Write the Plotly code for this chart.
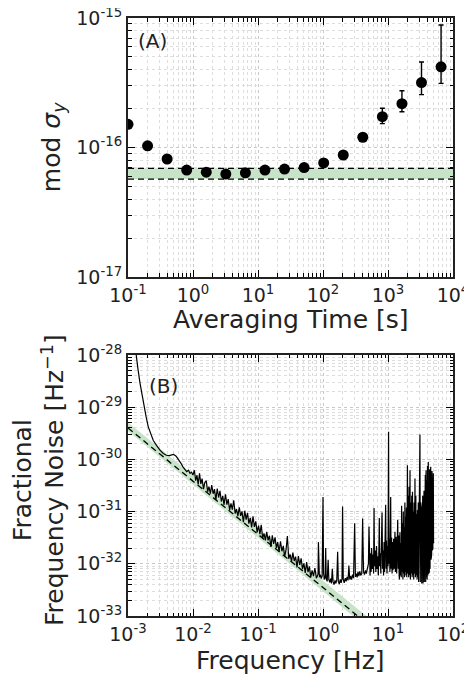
import plotly.graph_objects as go

# ---------------- Panel A data ----------------
tau = [0.1, 0.2, 0.4, 0.8, 1.6, 3.2, 6.4, 12.8, 25.6, 51.2, 102.4, 204.8, 409.6, 819.2, 1638.4, 3276.8, 6553.6]
mod_sigma = [1.51e-16, 1.03e-16, 8.15e-17, 6.7e-17, 6.45e-17, 6.24e-17, 6.38e-17, 6.7e-17, 6.82e-17,
             7.0e-17, 7.6e-17, 8.75e-17, 1.2e-16, 1.73e-16, 2.18e-16, 3.17e-16, 4.2e-16]
err_plus = [1e-18, 1e-18, 1e-18, 1e-18, 1e-18, 1e-18, 1e-18, 1e-18, 1e-18,
            1.5e-18, 2e-18, 3e-18, 8e-18, 2.8e-17, 5.6e-17, 1.4e-16, 4.64e-16]
err_minus = [1e-18, 1e-18, 1e-18, 1e-18, 1e-18, 1e-18, 1e-18, 1e-18, 1e-18,
             1.5e-18, 2e-18, 3e-18, 8e-18, 2.0e-17, 2.9e-17, 6.1e-17, 1.07e-16]
bandA_x = [0.1, 1e4]
bandA_lo = [5.7e-17, 5.7e-17]
bandA_hi = [6.9e-17, 6.9e-17]
xA_ticks = [0.1, 1, 10, 100, 1000, 10000]
xA_labels = ["10<sup>-1</sup>", "10<sup>0</sup>", "10<sup>1</sup>", "10<sup>2</sup>", "10<sup>3</sup>", "10<sup>4</sup>"]
yA_ticks = [1e-17, 1e-16, 1e-15]
yA_labels = ["10<sup>-17</sup>", "10<sup>-16</sup>", "10<sup>-15</sup>"]

# ---------------- Panel B data ----------------
bandB_f = [1e-3, 5.0]
bandB_lo = [3.5e-30, 5.7e-34]
bandB_hi = [5.1e-30, 9.3e-34]
bandB_mid = [4.0e-30, 6.8e-34]
xB_ticks = [1e-3, 1e-2, 1e-1, 1, 10, 100]
xB_labels = ["10<sup>-3</sup>", "10<sup>-2</sup>", "10<sup>-1</sup>", "10<sup>0</sup>", "10<sup>1</sup>", "10<sup>2</sup>"]
yB_ticks = [1e-33, 1e-32, 1e-31, 1e-30, 1e-29, 1e-28]
yB_labels = ["10<sup>-33</sup>", "10<sup>-32</sup>", "10<sup>-31</sup>", "10<sup>-30</sup>", "10<sup>-29</sup>", "10<sup>-28</sup>"]

noise_f = [
    # low-frequency drift
    1.25e-3, 1.33e-3, 1.42e-3, 1.53e-3, 1.65e-3, 1.76e-3, 1.9e-3, 2.05e-3, 2.25e-3, 2.45e-3,
    2.75e-3, 3.1e-3, 3.5e-3, 3.9e-3, 4.3e-3, 4.7e-3, 5.0e-3, 5.5e-3, 6.0e-3, 6.5e-3,
    7.0e-3, 7.5e-3, 8.0e-3, 8.5e-3, 9.0e-3, 9.5e-3, 1.0e-2,
    # flicker region
    0.0105, 0.011, 0.0115, 0.012, 0.0126, 0.0132, 0.0138, 0.0145, 0.0152, 0.016,
    0.0168, 0.0176, 0.0185, 0.0194, 0.0204, 0.0214, 0.0225, 0.0236, 0.0248, 0.026,
    0.0273, 0.0287, 0.03, 0.0316, 0.0332, 0.0348, 0.0366, 0.0384, 0.0403, 0.0423,
    0.0445, 0.0467, 0.049, 0.0515, 0.054, 0.0567, 0.0596, 0.0626, 0.0657, 0.069,
    0.0724, 0.076, 0.0798, 0.0838, 0.088, 0.0924, 0.097, 0.102, 0.107, 0.112,
    0.118, 0.124, 0.13, 0.136, 0.143, 0.15, 0.158, 0.166, 0.174, 0.183,
    0.192, 0.201, 0.211, 0.222, 0.233, 0.245, 0.257, 0.27, 0.283, 0.297,
    0.312, 0.328, 0.344, 0.361, 0.379, 0.398, 0.418, 0.439, 0.461, 0.484,
    0.508, 0.533, 0.56, 0.588, 0.617, 0.648, 0.68, 0.714, 0.75, 0.79,
    # floor with spurs
    0.82, 0.84, 0.85, 0.86, 0.88, 0.91, 0.94, 0.97, 1.0, 1.02,
    1.05, 1.08, 1.1, 1.12, 1.16, 1.2, 1.23, 1.27, 1.31, 1.35,
    1.39, 1.43, 1.48, 1.53, 1.58, 1.63, 1.68, 1.72, 1.78, 1.84,
    1.9, 1.96, 2.0, 2.05, 2.12, 2.2, 2.27, 2.35, 2.43, 2.5,
    2.58, 2.66, 2.75, 2.85, 2.95, 3.07, 3.15, 3.25, 3.35, 3.45,
    3.56, 3.68, 3.8, 3.95, 4.07, 4.2, 4.35, 4.5, 4.65, 4.8,
    # 5-15 Hz
    5.0, 5.1, 5.2, 5.3, 5.4, 5.5, 5.6, 5.75, 5.9, 6.0,
    6.1, 6.2, 6.35, 6.5, 6.65, 6.8, 6.95, 7.1, 7.25, 7.35,
    7.45, 7.6, 7.75, 7.9, 8.1, 8.25, 8.4, 8.55, 8.7, 8.85,
    9.0, 9.2, 9.35, 9.5, 9.65, 9.8, 10.0, 10.2, 10.35, 10.5,
    10.7, 10.85, 11.0, 11.15, 11.35, 11.55, 11.75, 11.95, 12.2, 12.45,
    12.8, 13.0, 13.3, 13.6, 13.85, 14.1, 14.35, 14.6, 14.85,
    # 15-50 Hz
    15.0, 15.25, 15.5, 15.75, 16.0, 16.2, 16.45, 16.7, 16.95, 17.2,
    17.45, 17.7, 17.95, 18.2, 18.45, 18.7, 18.95, 19.2, 19.45, 19.9,
    20.2, 20.5, 20.8, 21.1, 21.45, 21.8, 22.1, 22.45, 22.8, 23.15,
    23.5, 23.8, 24.15, 24.5, 24.85, 25.2, 25.6, 26.0, 26.4, 26.8,
    27.2, 27.6, 28.0, 28.4, 28.8, 29.2, 29.6, 30.0, 30.4, 31.0,
    31.4, 31.8, 32.2, 32.6, 33.0, 33.4, 33.8, 34.2, 34.6, 35.0,
    35.4, 35.8, 36.2, 36.6, 37.0, 37.5, 38.0, 38.5, 39.0, 39.5,
    40.0, 40.5, 41.0, 41.7, 42.2, 42.7, 43.2, 43.7, 44.3, 44.8,
    45.4, 45.9, 46.4, 46.9, 47.5, 48.0, 48.5, 49.0, 49.4, 49.8,
    50.2, 50.7,
]
noise_psd = [
    2.0e-28, 1.0e-28, 5.5e-29, 2.9e-29, 1.6e-29, 1.0e-29, 6.5e-30, 4.2e-30, 3.0e-30, 2.3e-30,
    1.85e-30, 1.5e-30, 1.3e-30, 1.2e-30, 1.18e-30, 1.2e-30, 1.25e-30, 1.15e-30, 1.0e-30, 8.5e-31,
    7.2e-31, 6.4e-31, 5.8e-31, 6.2e-31, 5.4e-31, 5.7e-31, 5.0e-31,
    6.2e-31, 3.9e-31, 5.0e-31, 3.3e-31, 5.4e-31, 3.4e-31, 4.3e-31, 2.7e-31, 3.6e-31, 3.9e-31,
    2.4e-31, 3.0e-31, 2.2e-31, 3.2e-31, 2.2e-31, 2.7e-31, 1.67e-31, 2.75e-31, 1.86e-31, 2.5e-31,
    1.56e-31, 2.0e-31, 1.34e-31, 2.13e-31, 1.36e-31, 1.73e-31, 1.07e-31, 1.43e-31, 1.09e-31, 1.65e-31,
    9.2e-32, 1.12e-31, 8.2e-32, 1.21e-31, 8.3e-32, 1.01e-31, 6.3e-32, 1.04e-31, 7.0e-32, 9.4e-32,
    5.9e-32, 7.6e-32, 5.0e-32, 8.1e-32, 5.1e-32, 6.5e-32, 4.0e-32, 5.4e-32, 3.7e-32, 5.6e-32,
    3.1e-32, 3.8e-32, 2.8e-32, 4.1e-32, 2.8e-32, 3.45e-32, 2.1e-32, 3.5e-32, 2.4e-32, 3.2e-32,
    2.0e-32, 2.6e-32, 1.7e-32, 2.7e-32, 1.74e-32, 2.2e-32, 1.37e-32, 1.84e-32, 3.4e-32, 1.25e-32,
    1.51e-32, 1.1e-32, 1.64e-32, 1.13e-32, 1.37e-32, 8.5e-33, 1.4e-32, 9.5e-33, 1.27e-32, 7.9e-33,
    1.02e-32, 6.7e-33, 1.08e-32, 6.9e-33, 8.9e-33, 5.5e-33, 7.5e-33, 5.8e-33, 8.3e-33, 5.3e-33,
    5.8e-33, 6.5e-33, 2.6e-32, 6.0e-33, 5.5e-33, 6.2e-33, 5.2e-33, 5.8e-33, 1.9e-31, 6.5e-33,
    5.0e-33, 5.6e-33, 2.0e-32, 5.2e-33, 4.6e-33, 1.2e-32, 5.0e-33, 4.4e-33, 5.2e-33, 4.2e-33,
    8.0e-33, 4.5e-33, 4.0e-33, 4.8e-33, 4.2e-33, 5.0e-33, 1.7e-32, 4.6e-33, 4.1e-33, 5.0e-33,
    4.3e-33, 5.2e-33, 1.25e-31, 5.0e-33, 4.3e-33, 5.3e-33, 4.6e-33, 5.6e-33, 4.8e-33, 9.3e-33,
    5.0e-33, 5.8e-33, 5.0e-33, 6.2e-33, 5.3e-33, 6.0e-32, 5.6e-33, 6.5e-33, 5.5e-33, 7.0e-33,
    5.8e-33, 7.2e-33, 6.0e-33, 6.5e-33, 7.4e-32, 7.0e-33, 6.2e-33, 7.5e-33, 6.5e-33, 8.0e-33,
    1.0e-32, 5.2e-32, 1.2e-32, 6.0e-33, 1.6e-32, 7.0e-33, 2.0e-32, 8.0e-33, 1.5e-32, 6.5e-33,
    1.17e-31, 9.0e-33, 1.8e-32, 7.0e-33, 2.2e-32, 8.0e-33, 1.4e-32, 6.0e-33, 2.0e-32, 7.5e-32,
    9.0e-33, 1.6e-32, 6.5e-33, 2.4e-32, 9.6e-32, 8.0e-33, 1.8e-32, 6.0e-33, 2.6e-32, 7.0e-33,
    2.0e-32, 1.35e-31, 8.0e-33, 2.8e-32, 6.5e-33, 2.2e-32, 9.0e-33, 3.4e-30, 1.0e-32, 3.0e-32,
    7.0e-33, 2.5e-32, 1.9e-31, 8.0e-33, 3.2e-32, 6.5e-33, 2.6e-32, 7.5e-33, 3.0e-32, 8.0e-33,
    4.1e-32, 7.0e-33, 3.3e-32, 6.5e-33, 2.8e-32, 7.0e-32, 8.0e-33, 3.5e-32, 6.0e-33,
    5.0e-33, 4.0e-32, 6.0e-33, 2.5e-32, 5.5e-33, 1.3e-31, 7.0e-33, 6.0e-32, 5.0e-33, 1.0e-31,
    6.5e-33, 5.0e-32, 5.5e-33, 1.5e-31, 7.0e-33, 8.0e-32, 6.0e-33, 1.2e-31, 5.5e-33, 7.7e-31,
    6.5e-33, 2.0e-31, 5.5e-33, 3.0e-31, 6.0e-33, 6.2e-31, 5.0e-33, 1.5e-31, 6.5e-33, 2.0e-31,
    5.5e-33, 2.4e-31, 6.0e-33, 1.0e-31, 5.0e-33, 1.5e-31, 6.5e-33, 4.3e-31, 5.5e-33, 2.0e-31,
    6.0e-33, 9.0e-32, 5.0e-33, 1.07e-31, 5.5e-33, 1.5e-31, 4.5e-33, 2.0e-31, 5.0e-33, 3.0e-30,
    4.5e-33, 1.5e-31, 5.0e-33, 1.2e-31, 4.2e-33, 1.8e-31, 4.5e-33, 2.0e-31, 4.2e-33, 1.4e-31,
    5.0e-33, 2.5e-31, 4.5e-33, 3.5e-31, 5.0e-33, 5.0e-31, 4.5e-33, 6.2e-31, 5.5e-33, 4.0e-31,
    5.0e-33, 7.5e-31, 6.0e-33, 8.9e-31, 6.5e-33, 5.0e-31, 7.0e-33, 6.5e-31, 8.0e-33, 4.5e-31,
    7.2e-31, 1.2e-32, 5.0e-31, 1.5e-32, 6.0e-31, 1.8e-32, 4.0e-31, 2.0e-32, 3.0e-31, 5.4e-31,
    2.5e-32, 2.6e-32,
]

FONT = "DejaVu Sans"
TXT = "#222222"
GREEN = "#c8e4c8"
GRID = "#c8c8c8"

fig = go.Figure()

# Panel A band
fig.add_trace(go.Scatter(x=bandA_x, y=bandA_lo, mode="lines", line=dict(width=0), showlegend=False,
                         xaxis="x", yaxis="y", hoverinfo="skip"))
fig.add_trace(go.Scatter(x=bandA_x, y=bandA_hi, mode="lines", line=dict(width=0), fill="tonexty",
                         fillcolor=GREEN, showlegend=False, xaxis="x", yaxis="y", hoverinfo="skip"))
for yy in (bandA_lo, bandA_hi):
    fig.add_trace(go.Scatter(x=bandA_x, y=yy, mode="lines", line=dict(color="black", width=1.4, dash="6px,4px"),
                             showlegend=False, xaxis="x", yaxis="y"))
fig.add_trace(go.Scatter(x=tau, y=mod_sigma, mode="markers",
                         marker=dict(color="black", size=11),
                         error_y=dict(type="data", array=err_plus, arrayminus=err_minus, color="black",
                                      thickness=1.4, width=2.5),
                         showlegend=False, xaxis="x", yaxis="y"))

# Panel B band
fig.add_trace(go.Scatter(x=bandB_f, y=bandB_lo, mode="lines", line=dict(width=0), showlegend=False,
                         xaxis="x2", yaxis="y2", hoverinfo="skip"))
fig.add_trace(go.Scatter(x=bandB_f, y=bandB_hi, mode="lines", line=dict(width=0), fill="tonexty",
                         fillcolor=GREEN, showlegend=False, xaxis="x2", yaxis="y2", hoverinfo="skip"))
fig.add_trace(go.Scatter(x=bandB_f, y=bandB_mid, mode="lines", line=dict(color="black", width=1.3, dash="6px,4px"),
                         showlegend=False, xaxis="x2", yaxis="y2"))
fig.add_trace(go.Scatter(x=noise_f, y=noise_psd, mode="lines", line=dict(color="black", width=1.2),
                         showlegend=False, xaxis="x2", yaxis="y2"))


def axis_style(rng, domain, anchor, tv, tt):
    return dict(type="log", range=rng, domain=domain, anchor=anchor,
                tickmode="array", tickvals=tv, ticktext=tt,
                ticks="inside", ticklen=7, tickwidth=1.3, tickcolor="black",
                ticklabeloverflow="allow",
                showline=True, linewidth=2, linecolor=TXT, mirror="allticks",
                showgrid=True, gridcolor=GRID, griddash="dot", gridwidth=1,
                zeroline=False, automargin=False,
                tickfont=dict(family=FONT, size=19, color=TXT),
                minor=dict(ticks="inside", ticklen=3.5, tickwidth=1, tickcolor="black", dtick="D1",
                           showgrid=True, gridcolor="#dddddd", griddash="dot", gridwidth=1))


# the page body adds an 8 px offset, so the figure is drawn 8 px smaller and shifted
fig.update_layout(
    width=464, height=669,
    margin=dict(l=120, r=19, t=10, b=61),
    paper_bgcolor="white", plot_bgcolor="white",
    font=dict(family=FONT, color=TXT),
    xaxis=axis_style([-1, 4], [0, 1], "y", xA_ticks, xA_labels),
    yaxis=axis_style([-17, -15], [0.5669, 1], "x", yA_ticks, yA_labels),
    xaxis2=axis_style([-3, 2], [0, 1], "y2", xB_ticks, xB_labels),
    yaxis2=axis_style([-33, -28], [0, 0.4365], "x2", yB_ticks, yB_labels),
)

annots = [
    dict(text="(A)", x=-0.62, y=-15.18, xref="x", yref="y", showarrow=False,
         xanchor="center", yanchor="middle", font=dict(size=20, family=FONT, color=TXT)),
    dict(text="(B)", x=-2.45, y=-28.6, xref="x2", yref="y2", showarrow=False,
         xanchor="center", yanchor="middle", font=dict(size=20, family=FONT, color=TXT)),
    dict(text="Averaging Time [s]", x=0.5, y=0.495, xref="paper", yref="paper",
         xanchor="center", yanchor="middle", showarrow=False, font=dict(size=25, family=FONT, color=TXT)),
    dict(text="Frequency [Hz]", x=0.5, y=-0.0736, xref="paper", yref="paper",
         xanchor="center", yanchor="middle", showarrow=False, font=dict(size=25, family=FONT, color=TXT)),
    dict(text="mod <i>σ</i><sub><i>y</i></sub>", x=-0.2308, y=0.784, xref="paper", yref="paper",
         xanchor="center", yanchor="middle",
         textangle=-90, showarrow=False, font=dict(size=25, family=FONT, color=TXT)),
    dict(text="Fractional<br>Frequency Noise [Hz<sup>−1</sup>]", x=-0.274, y=0.2274, xref="paper", yref="paper",
         xanchor="center", yanchor="middle",
         textangle=-90, showarrow=False, font=dict(size=25, family=FONT, color=TXT)),
]
fig.update_layout(annotations=annots)

fig.write_html("out.html")
